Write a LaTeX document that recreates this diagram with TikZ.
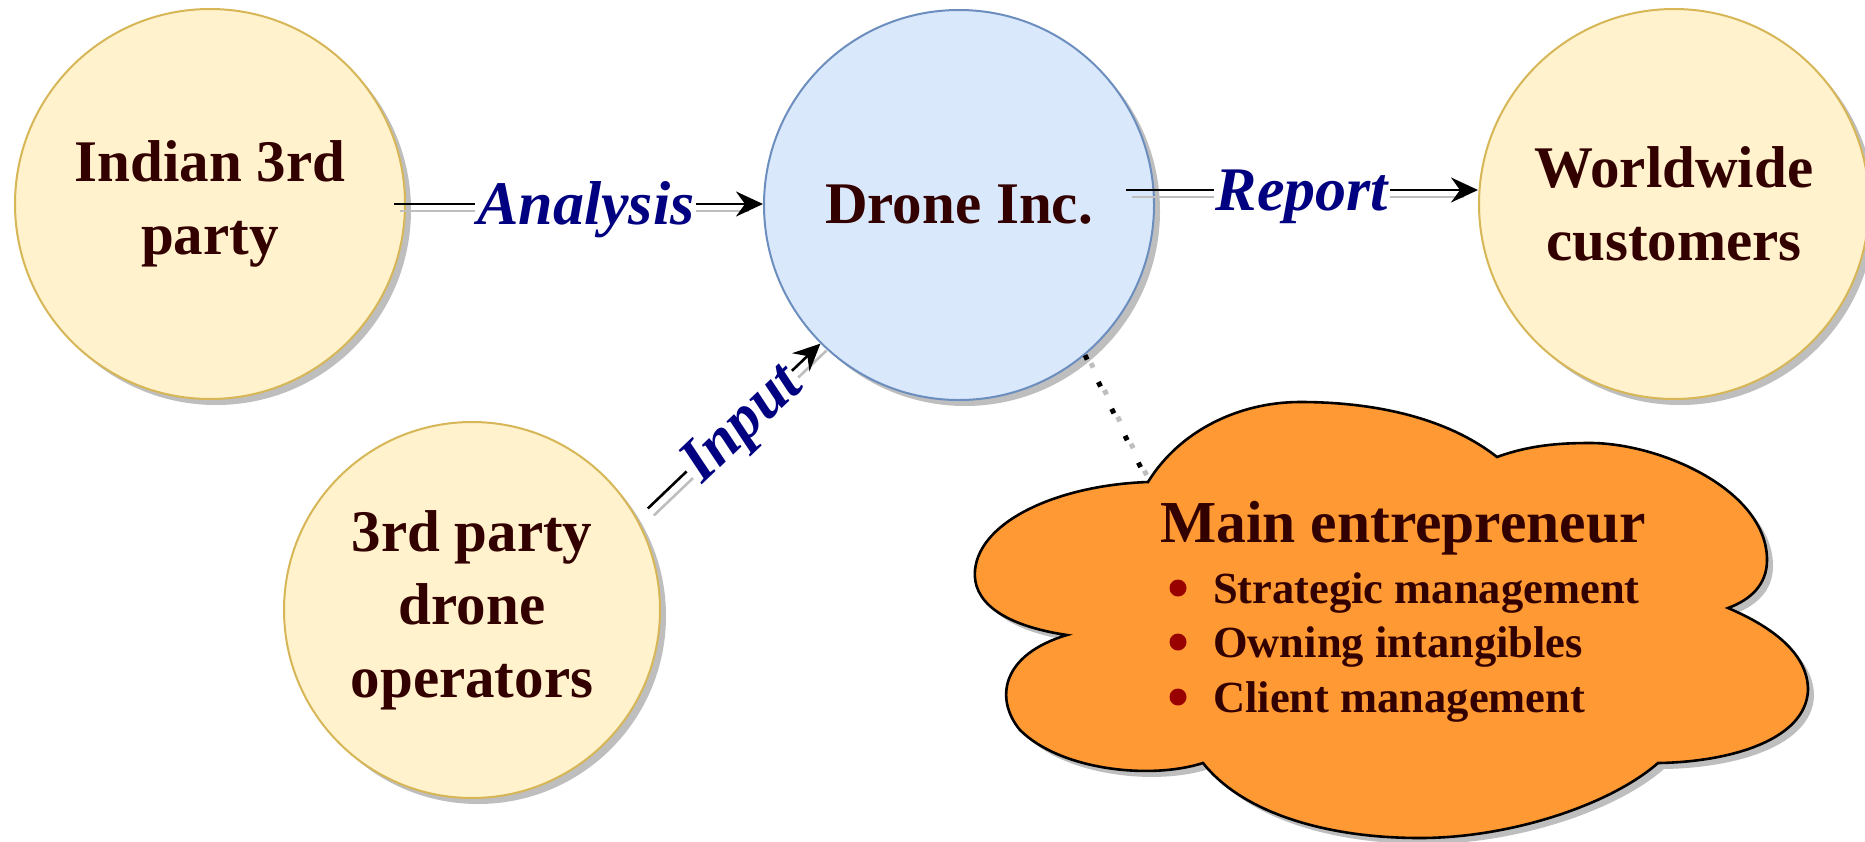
\documentclass[tikz,border=0pt]{standalone}
\usepackage{fontspec}
\setmainfont{Liberation Serif}
\usetikzlibrary{arrows.meta,shadows}

\definecolor{partyfill}{HTML}{FFF2CC}
\definecolor{partyline}{HTML}{D6B656}
\definecolor{hubfill}{HTML}{DAE8FC}
\definecolor{hubline}{HTML}{6C8EBF}
\definecolor{cloudfill}{HTML}{FF9933}
\definecolor{inktext}{HTML}{330000}
\definecolor{labelblue}{HTML}{000080}
\definecolor{bulletred}{HTML}{990000}
\definecolor{shadowgray}{HTML}{BEBEBE}

\tikzset{
  softshadow/.style={drop shadow={shadow xshift=6pt, shadow yshift=-6pt,
      fill=shadowgray, opacity=1}},
  party/.style={circle, draw=partyline, fill=partyfill, line width=2pt,
      inner sep=0pt, softshadow, text=inktext, align=center,
      font=\bfseries\fontsize{59}{73}\selectfont},
  hub/.style={party, draw=hubline, fill=hubfill},
  conn/.style={line width=2.6pt, draw=black,
      -{Stealth[length=27pt,width=25pt,inset=9pt]}},
  connshade/.style={line width=2.6pt, draw=shadowgray,
      transform canvas={shift={(6pt,-7pt)}}},
  flowlabel/.style={font=\bfseries\itshape\fontsize{62}{62}\selectfont,
      text=labelblue, fill=white, inner xsep=2pt, inner ysep=0pt,
      text height=41pt, text depth=0pt},
  cloudshape/.style={draw=black, line width=2.6pt, fill=cloudfill, softshadow},
  cloudtitle/.style={text=inktext, inner sep=0pt,
      font=\bfseries\fontsize{59.5}{60}\selectfont},
  clouditem/.style={text=inktext, inner sep=0pt,
      font=\bfseries\fontsize{44.5}{45}\selectfont},
  dotlink/.style={line width=5pt, dash pattern=on 5pt off 25pt},
}

\begin{document}
\begin{tikzpicture}[x=1pt,y=-1pt]
\useasboundingbox (0,0) rectangle (1865,841);

% parties and the company
\node[party, minimum size=390pt] (ind) at (210,204) {Indian 3rd\\party};
\node[hub,   minimum size=390pt] (d)   at (959,205) {Drone Inc.};
\node[party, minimum size=390pt] (w)   at (1674,204) {Worldwide\\customers};
\node[party, minimum size=376pt] (op)  at (472,610) {3rd party\\drone\\operators};

% the entrepreneur cloud
\coordinate (cA) at (1148,482);
\path[cloudshape] (cA)
  .. controls (1180,430) and (1240,402) .. (1300,402)
  .. controls (1380,402) and (1450,420) .. (1497,457)
  .. controls (1530,445) and (1560,443) .. (1590,443)
  .. controls (1660,443) and (1767,490) .. (1767,560)
  .. controls (1767,585) and (1750,600) .. (1728,608)
  .. controls (1775,628) and (1808,655) .. (1808,690)
  .. controls (1806,740) and (1730,762) .. (1658,763)
  .. controls (1610,805) and (1510,838) .. (1420,838)
  .. controls (1320,838) and (1240,810) .. (1203,763)
  .. controls (1150,780) and (1060,770) .. (1020,730)
  .. controls (995,700) and (1000,655) .. (1067,635)
  .. controls (1000,625) and (972,600) .. (975,570)
  .. controls (980,520) and (1060,485) .. (cA) -- cycle;

\node[cloudtitle, anchor=base] (me) at (1403,542) {Main entrepreneur};
\node[clouditem, anchor=base west] (b1) at (1213,603) {Strategic management};
\node[clouditem, anchor=base west] (b2) at (1213,657) {Owning intangibles};
\node[clouditem, anchor=base west] (b3) at (1213,712) {Client management};
\foreach \b in {b1,b2,b3}
  \fill[bulletred] ([shift={(-35pt,15pt)}]\b.base west) circle (8.5pt);

% connector end points
\coordinate (as) at ([xshift=-12pt]ind.east);
\coordinate (ae) at (as -| d.west);
\coordinate (rs) at ([shift={(-29pt,15pt)}]d.east);
\coordinate (re) at (rs -| w.west);
\coordinate (is) at ([shift={(30:203pt)}]op.center);

% shadows of the connectors
\draw[connshade] (as) -- ([xshift=-20pt]ae);
\draw[connshade] (rs) -- ([xshift=-20pt]re);
\draw[connshade] (is) -- (d.225);
\draw[dotlink, draw=shadowgray, transform canvas={shift={(6pt,-8pt)}}] (d.-50) -- (cA);

% connectors
\draw[conn] (as) -- (ae) node[flowlabel, pos=0.52] {Analysis};
\draw[conn] (rs) -- (re) node[flowlabel, pos=0.5] {Report};
\draw[conn] (is) -- (d.225) node[flowlabel, sloped, pos=0.53] {Input};
\draw[dotlink, draw=black] (d.-50) -- (cA);
\end{tikzpicture}
\end{document}
